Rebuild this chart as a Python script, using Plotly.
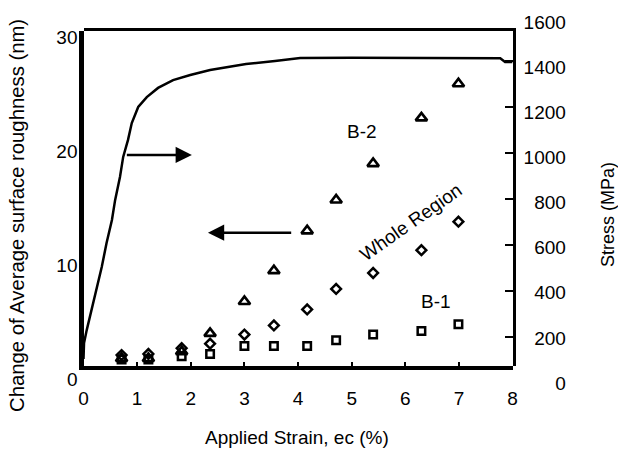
import plotly.graph_objects as go

W, H = 618, 450
FONT = "Liberation Sans, Arial, sans-serif"

# ---------------- data ----------------
strain_pts = [0.71, 1.21, 1.83, 2.36, 3.0, 3.55, 4.17, 4.71, 5.4, 6.3, 6.99]
b2_rough = [1.8, 1.8, 2.4, 4.0, 6.8, 9.5, 13.0, 15.7, 18.9, 22.9, 25.9]
whole_rough = [2.1, 2.2, 2.7, 3.1, 3.9, 4.7, 6.1, 7.9, 9.3, 11.3, 13.8]
b1_rough = [1.7, 1.7, 2.0, 2.2, 2.9, 2.9, 2.9, 3.4, 3.9, 4.2, 4.8]

curve_strain = [0, 0.01, 0.06, 0.15, 0.25, 0.34, 0.43, 0.53, 0.59, 0.68, 0.74,
                0.83, 0.90, 1.02, 1.18, 1.39, 1.67, 1.99, 2.36, 2.68, 3.03,
                3.57, 4.04, 5.0, 6.0, 7.0, 7.77, 7.86, 8.0]
curve_stress = [104, 174, 230, 317, 417, 504, 609, 709, 796, 896, 983,
                1057, 1130, 1200, 1243, 1283, 1317, 1339, 1361, 1374, 1387,
                1400, 1413, 1414, 1413, 1414, 1412, 1396, 1396]

x_ticks = [0, 1, 2, 3, 4, 5, 6, 7, 8]
left_ticks = [0, 10, 20, 30]
right_ticks = [0, 200, 400, 600, 800, 1000, 1200, 1400, 1600]
right_inner_ticks = [200, 400, 600, 800, 1000, 1200, 1400]


def px_x(p):
    return p / W


def px_y(p):
    return 1 - p / H


def pad_label(v):
    s = str(v)
    return "\u2007" * (4 - len(s)) + s


fig = go.Figure()

common = dict(showlegend=False, hoverinfo="skip", cliponaxis=False)
fig.add_trace(go.Scatter(x=strain_pts, y=b1_rough, mode="markers", xaxis="x2", yaxis="y",
                         marker=dict(symbol="square-open", size=7.5, color="black",
                                     line=dict(color="black", width=2.5)), **common))
fig.add_trace(go.Scatter(x=strain_pts, y=whole_rough, mode="markers", xaxis="x2", yaxis="y",
                         marker=dict(symbol="diamond-open", size=7.5, color="black",
                                     line=dict(color="black", width=2.5)), **common))
fig.add_trace(go.Scatter(x=strain_pts, y=b2_rough, mode="markers", xaxis="x2", yaxis="y",
                         marker=dict(symbol="triangle-up-open", size=10, color="black",
                                     line=dict(color="black", width=2.7)), **common))
fig.add_trace(go.Scatter(x=curve_strain, y=curve_stress, mode="lines", xaxis="x4", yaxis="y2",
                         line=dict(color="black", width=2.5), showlegend=False, hoverinfo="skip"))
# helper (empty) traces so every axis pair exists
for xa, ya in [("x", "y3"), ("x5", "y5"), ("x6", "y6")]:
    fig.add_trace(go.Scatter(x=[None], y=[None], xaxis=xa, yaxis=ya, mode="markers",
                             showlegend=False, hoverinfo="skip"))

x_dom = [px_x(83.5), px_x(512.6)]
frame_dom = [px_y(366), px_y(30.75)]
rough_dom = [px_y(379), px_y(37)]
stress_dom = [px_y(383), px_y(15)]        # tick-mark scale
stress_lbl_dom = [px_y(383), px_y(22)]    # label scale

tick_font = dict(family=FONT, size=19, color="black")
hidden_x = dict(domain=x_dom, range=[0, 8], visible=False, automargin=False,
                showgrid=False, zeroline=False)
base = dict(showgrid=False, zeroline=False, automargin=False)

fig.update_layout(
    width=W, height=H,
    margin=dict(l=0, r=0, t=0, b=0, pad=0, autoexpand=False),
    paper_bgcolor="white", plot_bgcolor="rgba(0,0,0,0)",
    font=dict(family=FONT, size=19, color="black"),
    # frame: bottom + left
    xaxis=dict(domain=x_dom, range=[0, 8], anchor="y3",
               tickmode="array", tickvals=x_ticks,
               ticks="inside", ticklen=4, tickwidth=2, tickcolor="black",
               showline=True, linewidth=4, linecolor="black",
               tickfont=tick_font, ticklabelstandoff=12, **base),
    yaxis3=dict(domain=frame_dom, range=[0, 1], anchor="x",
                showline=True, linewidth=5, linecolor="black",
                showticklabels=False, ticks="", **base),
    # frame: top + right
    xaxis5=dict(domain=x_dom, range=[0, 8], anchor="y5", side="top",
                showline=True, linewidth=2.5, linecolor="black",
                showticklabels=False, ticks="", **base),
    yaxis5=dict(domain=frame_dom, range=[0, 1], anchor="x5", side="right",
                showline=True, linewidth=2.7, linecolor="black",
                showticklabels=False, ticks="", **base),
    # roughness data axis
    xaxis2=dict(anchor="y", **hidden_x),
    yaxis=dict(domain=rough_dom, range=[0, 30], anchor="x2",
               tickmode="array", tickvals=left_ticks, ticks="",
               showline=False, tickfont=tick_font, ticklabelstandoff=5, **base),
    # stress data axis (tick marks)
    xaxis4=dict(anchor="y2", **hidden_x),
    yaxis2=dict(domain=stress_dom, range=[0, 1600], anchor="x4", side="right",
                tickmode="array", tickvals=right_inner_ticks, showticklabels=False,
                ticks="inside", ticklen=8, tickwidth=2, tickcolor="black",
                showline=False, **base),
    # stress tick labels
    xaxis6=dict(anchor="y6", **hidden_x),
    yaxis6=dict(domain=stress_lbl_dom, range=[0, 1600], anchor="x6", side="right",
                tickmode="array", tickvals=right_ticks,
                ticktext=[pad_label(v) for v in right_ticks], ticks="",
                showline=False, tickfont=tick_font, ticklabelstandoff=10, **base),
)

annots = [
    dict(text="Change of Average surface roughness (nm)", x=px_x(17), y=px_y(216),
         xref="paper", yref="paper", textangle=-90, showarrow=False,
         xanchor="center", yanchor="middle", font=dict(size=20.3)),
    dict(text="Stress (MPa)", x=px_x(608), y=px_y(215),
         xref="paper", yref="paper", textangle=-90, showarrow=False,
         xanchor="center", yanchor="middle", font=dict(size=18)),
    dict(text="Applied Strain, ec (%)", x=px_x(297), y=px_y(437),
         xref="paper", yref="paper", showarrow=False,
         xanchor="center", yanchor="middle"),
    dict(text="B-2", x=5.2, y=21.7, xref="x2", yref="y", showarrow=False),
    dict(text="B-1", x=6.58, y=6.78, xref="x2", yref="y", showarrow=False),
    dict(text="Whole Region", x=6.09, y=13.77, xref="x2", yref="y", showarrow=False,
         textangle=-35),
    # arrows
    dict(text="", x=2.02, y=19.65, ax=0.78, ay=19.65, xref="x2", yref="y",
         axref="x2", ayref="y", showarrow=True, arrowhead=2, arrowsize=1.3,
         arrowwidth=2.5, arrowcolor="black"),
    dict(text="", x=2.32, y=12.83, ax=3.9, ay=12.83, xref="x2", yref="y",
         axref="x2", ayref="y", showarrow=True, arrowhead=2, arrowsize=1.3,
         arrowwidth=2.5, arrowcolor="black"),
]
fig.update_layout(annotations=annots)

fig.write_html("out.html")
